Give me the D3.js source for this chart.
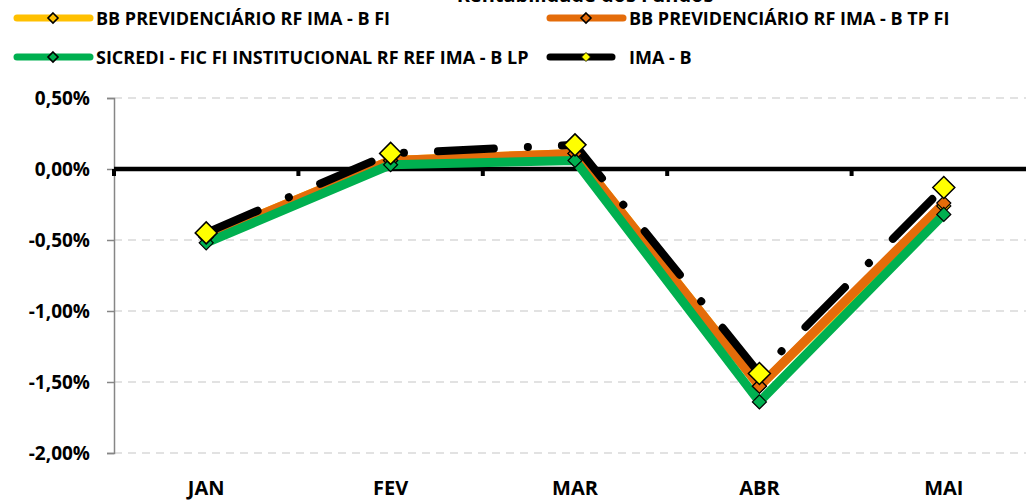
<!DOCTYPE html>
<html lang="pt">
<head>
    <meta charset="utf-8">
    <title>Rentabilidade</title>
    <script src="https://d3js.org/d3.v7.js"></script>
    <style>
        body { margin: 0; background: #fff; }
        svg { display: block; font-family: "Open Sans", "Liberation Sans", sans-serif; font-weight: bold; }
        .grid line { stroke: #d9d9d9; stroke-width: 1.5px; stroke-dasharray: 8,6; }
    </style>
</head>
<body>
<svg width="1026" height="500"></svg>
<script type="text/javascript">
    // data
    let months = ["JAN", "FEV", "MAR", "ABR", "MAI"];
    let bbFi = [-0.48, 0.06, 0.11, -1.53, -0.26];
    let bbTpFi = [-0.48, 0.06, 0.11, -1.53, -0.24];
    let sicredi = [-0.52, 0.03, 0.06, -1.64, -0.32];
    let imaB = [-0.45, 0.11, 0.17, -1.44, -0.13];
    let yTicks = [0.5, 0, -0.5, -1, -1.5, -2];

    let seriesNames = [
        "BB PREVIDENCIÁRIO RF IMA - B FI",
        "BB PREVIDENCIÁRIO RF IMA - B TP FI",
        "SICREDI - FIC FI INSTITUCIONAL RF REF IMA - B LP",
        "IMA - B"
    ];
    let seriesColors = ["#ffc000", "#e46c0a", "#00b050", "#000000"];
    let markerFill = ["#ffc000", "#e46c0a", "#00b050", "#ffff00"];
    let seriesValues = [bbFi, bbTpFi, sicredi, imaB];

    let svg = d3.select("svg");
    let margin = {left: 114, top: 98, right: -10, bottom: 47};
    let width = parseInt(svg.attr("width"));
    let height = parseInt(svg.attr("height"));

    let x = d3.scaleBand()
        .domain(months)
        .range([margin.left, width - margin.right]);

    let y = d3.scaleLinear()
        .domain([-2, 0.5])
        .range([height - margin.bottom, margin.top]);

    // title, cut off by the top edge as in the original
    svg.append("text")
        .attr("x", 585).attr("y", 1.5)
        .attr("text-anchor", "middle")
        .style("font-size", "20px")
        .text("Rentabilidade dos Fundos");

    // gridlines
    svg.append("g").attr("class", "grid")
        .selectAll("line")
        .data(yTicks.filter(d => d !== 0))
        .join("line")
        .attr("x1", margin.left).attr("x2", width)
        .attr("y1", d => y(d)).attr("y2", d => y(d));

    let pct = function (d) {
        let s = Math.abs(d).toFixed(2).replace(".", ",") + "%";
        return d < 0 ? "-" + s : s;
    };

    // y axis
    let yAxis = svg.append("g")
        .attr("transform", `translate(${margin.left},0)`)
        .call(d3.axisLeft(y).tickValues(yTicks).tickSize(7).tickPadding(17).tickFormat(pct));
    yAxis.select(".domain").attr("stroke", "#868686").attr("stroke-width", 1.5);
    yAxis.selectAll(".tick line").attr("stroke", "#868686").attr("stroke-width", 1.5);
    yAxis.selectAll(".tick text")
        .style("font-size", "19px").style("font-family", "'Open Sans', sans-serif")
        .style("font-weight", "bold").attr("fill", "#000");

    // zero axis with category ticks
    let zeroAxis = svg.append("g");
    zeroAxis.selectAll("rect")
        .data(months)
        .join("rect")
        .attr("x", d => x(d) - 2)
        .attr("y", y(0))
        .attr("width", 4).attr("height", 7)
        .attr("fill", "#000");
    zeroAxis.append("line")
        .attr("x1", margin.left).attr("x2", width)
        .attr("y1", y(0)).attr("y2", y(0))
        .attr("stroke", "#000").attr("stroke-width", 4.5);

    // category labels
    svg.append("g").selectAll("text")
        .data(months)
        .join("text")
        .attr("x", d => x(d) + x.bandwidth() / 2)
        .attr("y", 495)
        .attr("text-anchor", "middle")
        .style("font-size", "20px")
        .text(d => d);

    let line = d3.line()
        .x((d, i) => x(months[i]) + x.bandwidth() / 2)
        .y(d => y(d));

    let diamond = function (cx, cy, r) {
        return `M${cx},${cy - r}L${cx + r},${cy}L${cx},${cy + r}L${cx - r},${cy}Z`;
    };

    // series lines and markers
    seriesValues.forEach(function (vals, s) {
        let path = svg.append("path")
            .datum(vals)
            .attr("d", line)
            .attr("fill", "none")
            .attr("stroke", seriesColors[s])
            .attr("stroke-width", s === 3 ? 8 : 9)
            .attr("stroke-linejoin", "round");
        if (s === 3) {
            path.attr("stroke-dasharray", "56,34,0.1,34")
                .attr("stroke-linecap", "round");
        }
    });
    seriesValues.forEach(function (vals, s) {
        let r = s === 3 ? 11 : 7;
        svg.append("g").selectAll("path")
            .data(vals)
            .join("path")
            .attr("d", (d, i) => diamond(x(months[i]) + x.bandwidth() / 2, y(d), r))
            .attr("fill", markerFill[s])
            .attr("stroke", "#000")
            .attr("stroke-width", s === 3 ? 1.5 : 1.2);
    });

    // legend
    let legendPos = [
        {lx: 17, ly: 18, len: 73},
        {lx: 550, ly: 18, len: 73},
        {lx: 17, ly: 57, len: 73},
        {lx: 550, ly: 57, len: 62}
    ];
    let legend = svg.append("g").selectAll("g")
        .data(seriesNames)
        .join("g")
        .attr("transform", (d, i) => `translate(${legendPos[i].lx},${legendPos[i].ly})`);
    legend.append("line")
        .attr("x1", 0).attr("x2", (d, i) => legendPos[i].len)
        .attr("stroke", (d, i) => seriesColors[i])
        .attr("stroke-width", 7)
        .attr("stroke-linecap", "round");
    legend.append("path")
        .attr("d", (d, i) => diamond(36, 0, i === 3 ? 4.5 : 5))
        .attr("fill", (d, i) => markerFill[i])
        .attr("stroke", "#000")
        .attr("stroke-width", (d, i) => i === 3 ? 0.8 : 1.6);
    legend.append("text")
        .attr("x", 79)
        .attr("y", 6.5)
        .style("font-size", "18px")
        .text(d => d);
</script>
</body>
</html>
